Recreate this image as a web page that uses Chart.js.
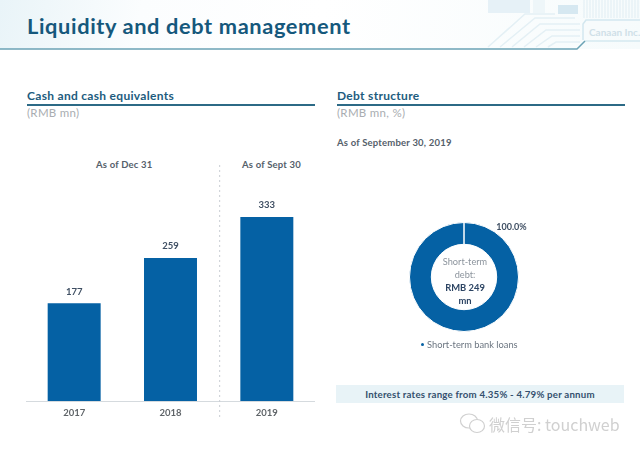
<!DOCTYPE html>
<html>
<head>
<meta charset="utf-8">
<script src="https://cdn.jsdelivr.net/npm/chart.js@4"></script>
<style>
  html, body { margin: 0; padding: 0; background: #fff; }
  body { width: 640px; height: 452px; position: relative; overflow: hidden; font-family: Lato, sans-serif; }
  .abs { position: absolute; white-space: nowrap; }
  #header { left: 0; top: 0; width: 640px; height: 49px; background: linear-gradient(100deg, #e9f4f8 0%, #fbfdfe 22%, #fff 50%, #f6fbfc 100%); }
  #title { left: 27px; top: 12px; font-size: 21.8px; font-weight: 700; color: #15587c; letter-spacing: 0.62px; }
  .section { font-size: 12px; font-weight: 700; color: #1d5c7e; top: 88px; letter-spacing: 0.3px; }
  .rule { height: 2px; top: 104px; background: #2c6a86; width: 288px; }
  .unit { font-size: 11.5px; color: #a9adb1; top: 106px; letter-spacing: 0.3px; }
  .note { font-size: 9.5px; font-weight: 700; color: #55606b; letter-spacing: 0.2px; }
  #centre { left: 425px; width: 80px; top: 255px; text-align: center; font-size: 9.2px; line-height: 13px; color: #8c949d; }
  #centre b { color: #2c4463; font-size: 9.4px; }
  #legend { left: 421px; top: 339px; font-size: 9.3px; line-height: 12px; color: #6b7580; }
  #legend i { display: inline-block; width: 3px; height: 3px; border-radius: 50%; background: #0561a4; vertical-align: 2px; margin-right: 3px; }
  #rates { left: 336px; top: 385px; width: 288px; height: 18px; line-height: 18px; background: #e8f3f7; text-align: center; font-size: 9.7px; font-weight: 700; color: #34506e; letter-spacing: 0.2px; }
  #mark { left: 489px; top: 412px; font-family: "Noto Sans CJK SC", sans-serif; font-size: 16px; color: #d0d0d0; }
</style>
</head>
<body>
<div class="abs" id="header"></div>
<svg class="abs" style="left:0;top:0" width="640" height="60">
  <g fill="none" stroke="#e4f0f5" stroke-width="1.5">
    <path d="M488 47 L525 14 L555 14"/>
    <path d="M500 47 L535 18 L575 18"/>
    <path d="M512 47 L540 24 L580 24"/>
    <path d="M524 47 L546 30 L580 30"/>
    <path d="M536 47 L552 36 L580 36"/>
    <path d="M548 47 L556 42 L580 42"/>
  </g>
  <g fill="#e6f1f7">
    <rect x="488" y="0" width="42" height="13"/>
    <rect x="533" y="0" width="12" height="13" fill="#eef6f9"/>
    <rect x="558" y="5" width="20" height="9" fill="#d6e8f1"/>
  </g>
  <g stroke="#e0edf3" stroke-width="1">
    <path d="M584 0V18M587 0V18M590 0V18M593 0V18M596 0V18M599 0V18M602 0V18M605 0V18M608 0V18M611 0V18M614 0V18M617 0V18M620 0V18M623 0V18M626 0V18M629 0V18M632 0V18M635 0V18M638 0V18"/>
  </g>
  <path d="M640 20 L586 20 L583 24 L583 40" fill="#f7fbfc" stroke="#d3e7ef" stroke-width="1.5"/>
  <text x="589" y="36" font-family="Lato" font-size="10" font-weight="700" fill="#cfe0e8">Canaan Inc.</text>
  <path d="M585 41 L640 41" fill="none" stroke="#c4e0e9" stroke-width="1.2"/>
  <path d="M0 49 L577 49 L585 41" fill="none" stroke="#6ba3b5" stroke-width="1.5"/>
</svg>
<div class="abs" id="title">Liquidity and debt management</div>

<div class="abs section" style="left:27px">Cash and cash equivalents</div>
<div class="abs rule" style="left:27px"></div>
<div class="abs unit" style="left:27px">(RMB mn)</div>

<div class="abs section" style="left:337px">Debt structure</div>
<div class="abs rule" style="left:337px"></div>
<div class="abs unit" style="left:337px">(RMB mn, %)</div>
<div class="abs note" style="left:337px;top:137px">As of September 30, 2019</div>

<div class="abs note" style="left:96px;top:159px">As of Dec 31</div>
<div class="abs note" style="left:242px;top:159px">As of Sept 30</div>

<canvas class="abs" id="cashChart" style="left:26px;top:160px"></canvas>
<canvas class="abs" id="debtChart" style="left:364px;top:222px"></canvas>

<div class="abs" id="centre">Short-term<br>debt:<br><b>RMB 249<br>mn</b></div>
<div class="abs" id="legend"></div>
<div class="abs" id="rates">Interest rates range from 4.35% - 4.79% per annum</div>

<svg class="abs" style="left:459px;top:412px" width="30" height="24">
  <g fill="#fff" stroke="#d0d0d0" stroke-width="1.2">
    <ellipse cx="10" cy="9" rx="8.5" ry="7"/>
    <ellipse cx="18" cy="14" rx="7.5" ry="6.5"/>
  </g>
</svg>
<div class="abs" id="mark">微信号: touchweb</div>

<script>
const years = ['2017', '2018', '2019'];
const cashValues = [177, 259, 333];
const debtLabels = ['Short-term bank loans'];
const debtValues = [100];
const debtShare = '100.0%';

const barLabels = {
    id: 'barLabels',
    afterDatasetsDraw(chart) {
        const ctx = chart.ctx;
        const meta = chart.getDatasetMeta(0);
        ctx.save();
        ctx.font = '700 9.5px Lato';
        ctx.fillStyle = '#3f4f63';
        ctx.textAlign = 'center';
        ctx.textBaseline = 'bottom';
        meta.data.forEach((bar, i) => {
            ctx.fillText(cashValues[i], bar.x, bar.y - 7);
        });
        // dotted divider between the year-end bars and the September one
        const x = (meta.data[1].x + meta.data[2].x) / 2 + 1;
        ctx.strokeStyle = '#c9ced3';
        ctx.lineWidth = 1;
        ctx.setLineDash([2, 3]);
        ctx.beginPath();
        ctx.moveTo(x, 5);
        ctx.lineTo(x, chart.height - 8);
        ctx.stroke();
        ctx.restore();
    }
};

const shareLabel = {
    id: 'shareLabel',
    afterDatasetsDraw(chart) {
        const ctx = chart.ctx;
        const arc = chart.getDatasetMeta(0).data[0];
        ctx.save();
        ctx.font = '700 9px Lato';
        ctx.fillStyle = '#3f4f63';
        ctx.textAlign = 'center';
        ctx.textBaseline = 'middle';
        ctx.fillText(debtShare, arc.x + arc.outerRadius * 0.87, arc.y - arc.outerRadius * 0.92);
        ctx.restore();
    }
};

const sizeCanvas = (id, w, h) => {
    const elem = document.getElementById(id);
    elem.width = w;
    elem.height = h;
    elem.style.width = w + 'px';
    elem.style.height = h + 'px';
    return elem.getContext('2d');
};

new Chart(sizeCanvas('cashChart', 289, 265), {
    type: 'bar',
    data: {
        labels: years,
        datasets: [{
            data: cashValues,
            backgroundColor: '#0561a4',
            categoryPercentage: 0.55,
            barPercentage: 1
        }]
    },
    plugins: [barLabels],
    options: {
        responsive: false,
        animation: false,
        devicePixelRatio: 1,
        layout: { padding: { top: 20, bottom: 0, left: 0, right: 0 } },
        plugins: { legend: { display: false }, tooltip: { enabled: false } },
        scales: {
            x: {
                grid: { display: false, drawTicks: false },
                border: { color: '#d5dade', width: 1 },
                ticks: { color: '#5f6468', font: { size: 9.5, weight: '700', family: 'Lato' }, padding: 6 },
                afterFit: axis => { axis.height = 24; }
            },
            y: { display: false, min: 0, max: 400 }
        }
    }
});

new Chart(sizeCanvas('debtChart', 200, 110), {
    type: 'doughnut',
    data: {
        labels: debtLabels,
        datasets: [{
            data: debtValues,
            backgroundColor: '#0561a4',
            borderColor: '#fff',
            borderWidth: 1
        }]
    },
    plugins: [shareLabel],
    options: {
        responsive: false,
        animation: false,
        devicePixelRatio: 1,
        cutout: '60%',
        layout: { padding: 0 },
        plugins: { tooltip: { enabled: false }, legend: { display: false } }
    }
});

document.getElementById('legend').innerHTML = '<i></i>' + debtLabels[0];
</script>
</body>
</html>
